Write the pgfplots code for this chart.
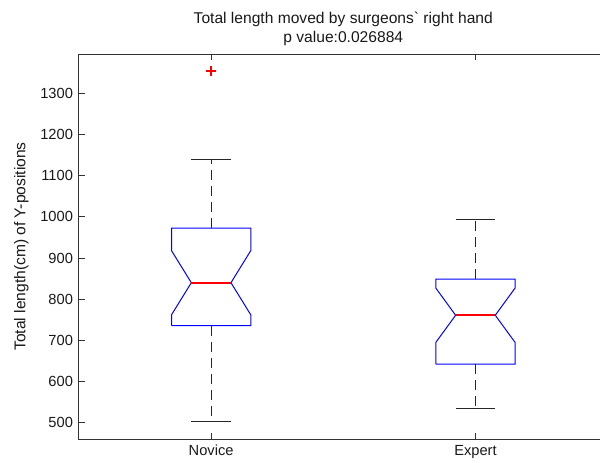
\documentclass[border=0pt]{standalone}
\usepackage{fontspec}
\setmainfont{Liberation Sans}
\usepackage{pgfplots}
\pgfplotsset{compat=1.18}
\definecolor{mred}{rgb}{1,0,0}
\begin{document}
\begin{tikzpicture}
\useasboundingbox (-59.25pt,-17.25pt) rectangle (390.75pt,329.25pt);
\begin{axis}[
  at={(0,0)}, anchor=south west,
  scale only axis,
  width=396.45pt, height=288.75pt,
  xmin=0.5, xmax=2.5, ymin=460.4, ymax=1395.5,
  xtick={1,2}, xticklabels={Novice,Expert},
  ytick={500,600,...,1300},
  tick align=inside,
  xtick pos=both, ytick pos=both,
  major tick length=4.5pt,
  axis line style={black!80, line width=0.75pt},
  every tick/.style={black!80, line width=0.75pt},
  /pgf/number format/assume math mode=true,
  /pgf/number format/1000 sep={},
  tick label style={font=\fontsize{11}{13}\selectfont, black!90},
  yticklabel style={xshift=-1pt},
  xticklabel style={yshift=-1pt},
  ylabel={Total length(cm) of Y-positions},
  ylabel style={font=\fontsize{11.7}{14}\selectfont, black!90, yshift=2pt},
  title={Total length moved by surgeons\textasciigrave{} right hand\\p value:0.026884},
  title style={align=center, font=\fontsize{11.7}{14.25}\selectfont, black!90, yshift=-3pt},
  clip=false,
]
% Novice box (notched)
\addplot[blue, line width=0.75pt] coordinates {
 (0.85,735.5) (1.15,735.5) (1.15,762) (1.075,840) (1.15,918) (1.15,972.8)
 (0.85,972.8) (0.85,918) (0.925,840) (0.85,762) (0.85,735.5)};
\addplot[black!85, line width=0.75pt, dash pattern=on 7.5pt off 4.5pt] coordinates {(1,972.8) (1,1140)};
\addplot[black!85, line width=0.75pt, dash pattern=on 7.5pt off 4.5pt] coordinates {(1,735.5) (1,504)};
\addplot[black!85, line width=0.75pt] coordinates {(0.925,1140) (1.075,1140)};
\addplot[black!85, line width=0.75pt] coordinates {(0.925,504) (1.075,504)};
% Expert box (notched)
\addplot[blue, line width=0.75pt] coordinates {
 (1.85,642.5) (2.15,642.5) (2.15,695) (2.075,761) (2.15,827) (2.15,849)
 (1.85,849) (1.85,827) (1.925,761) (1.85,695) (1.85,642.5)};
\addplot[black!85, line width=0.75pt, dash pattern=on 7.5pt off 4.5pt] coordinates {(2,849) (2,994)};
\addplot[black!85, line width=0.75pt, dash pattern=on 7.5pt off 4.5pt] coordinates {(2,642.5) (2,535)};
\addplot[black!85, line width=0.75pt] coordinates {(1.925,994) (2.075,994)};
\addplot[black!85, line width=0.75pt] coordinates {(1.925,535) (2.075,535)};
% medians and outlier (red)
\addplot[mred, line width=1.2pt] coordinates {(0.925,840) (1.075,840)};
\addplot[mred, only marks, mark=+, mark size=4pt, mark options={mred, line width=1pt}] coordinates {(1,1354)};
\addplot[mred, line width=1.2pt] coordinates {(1.925,761) (2.075,761)};
\end{axis}
\end{tikzpicture}
\end{document}
